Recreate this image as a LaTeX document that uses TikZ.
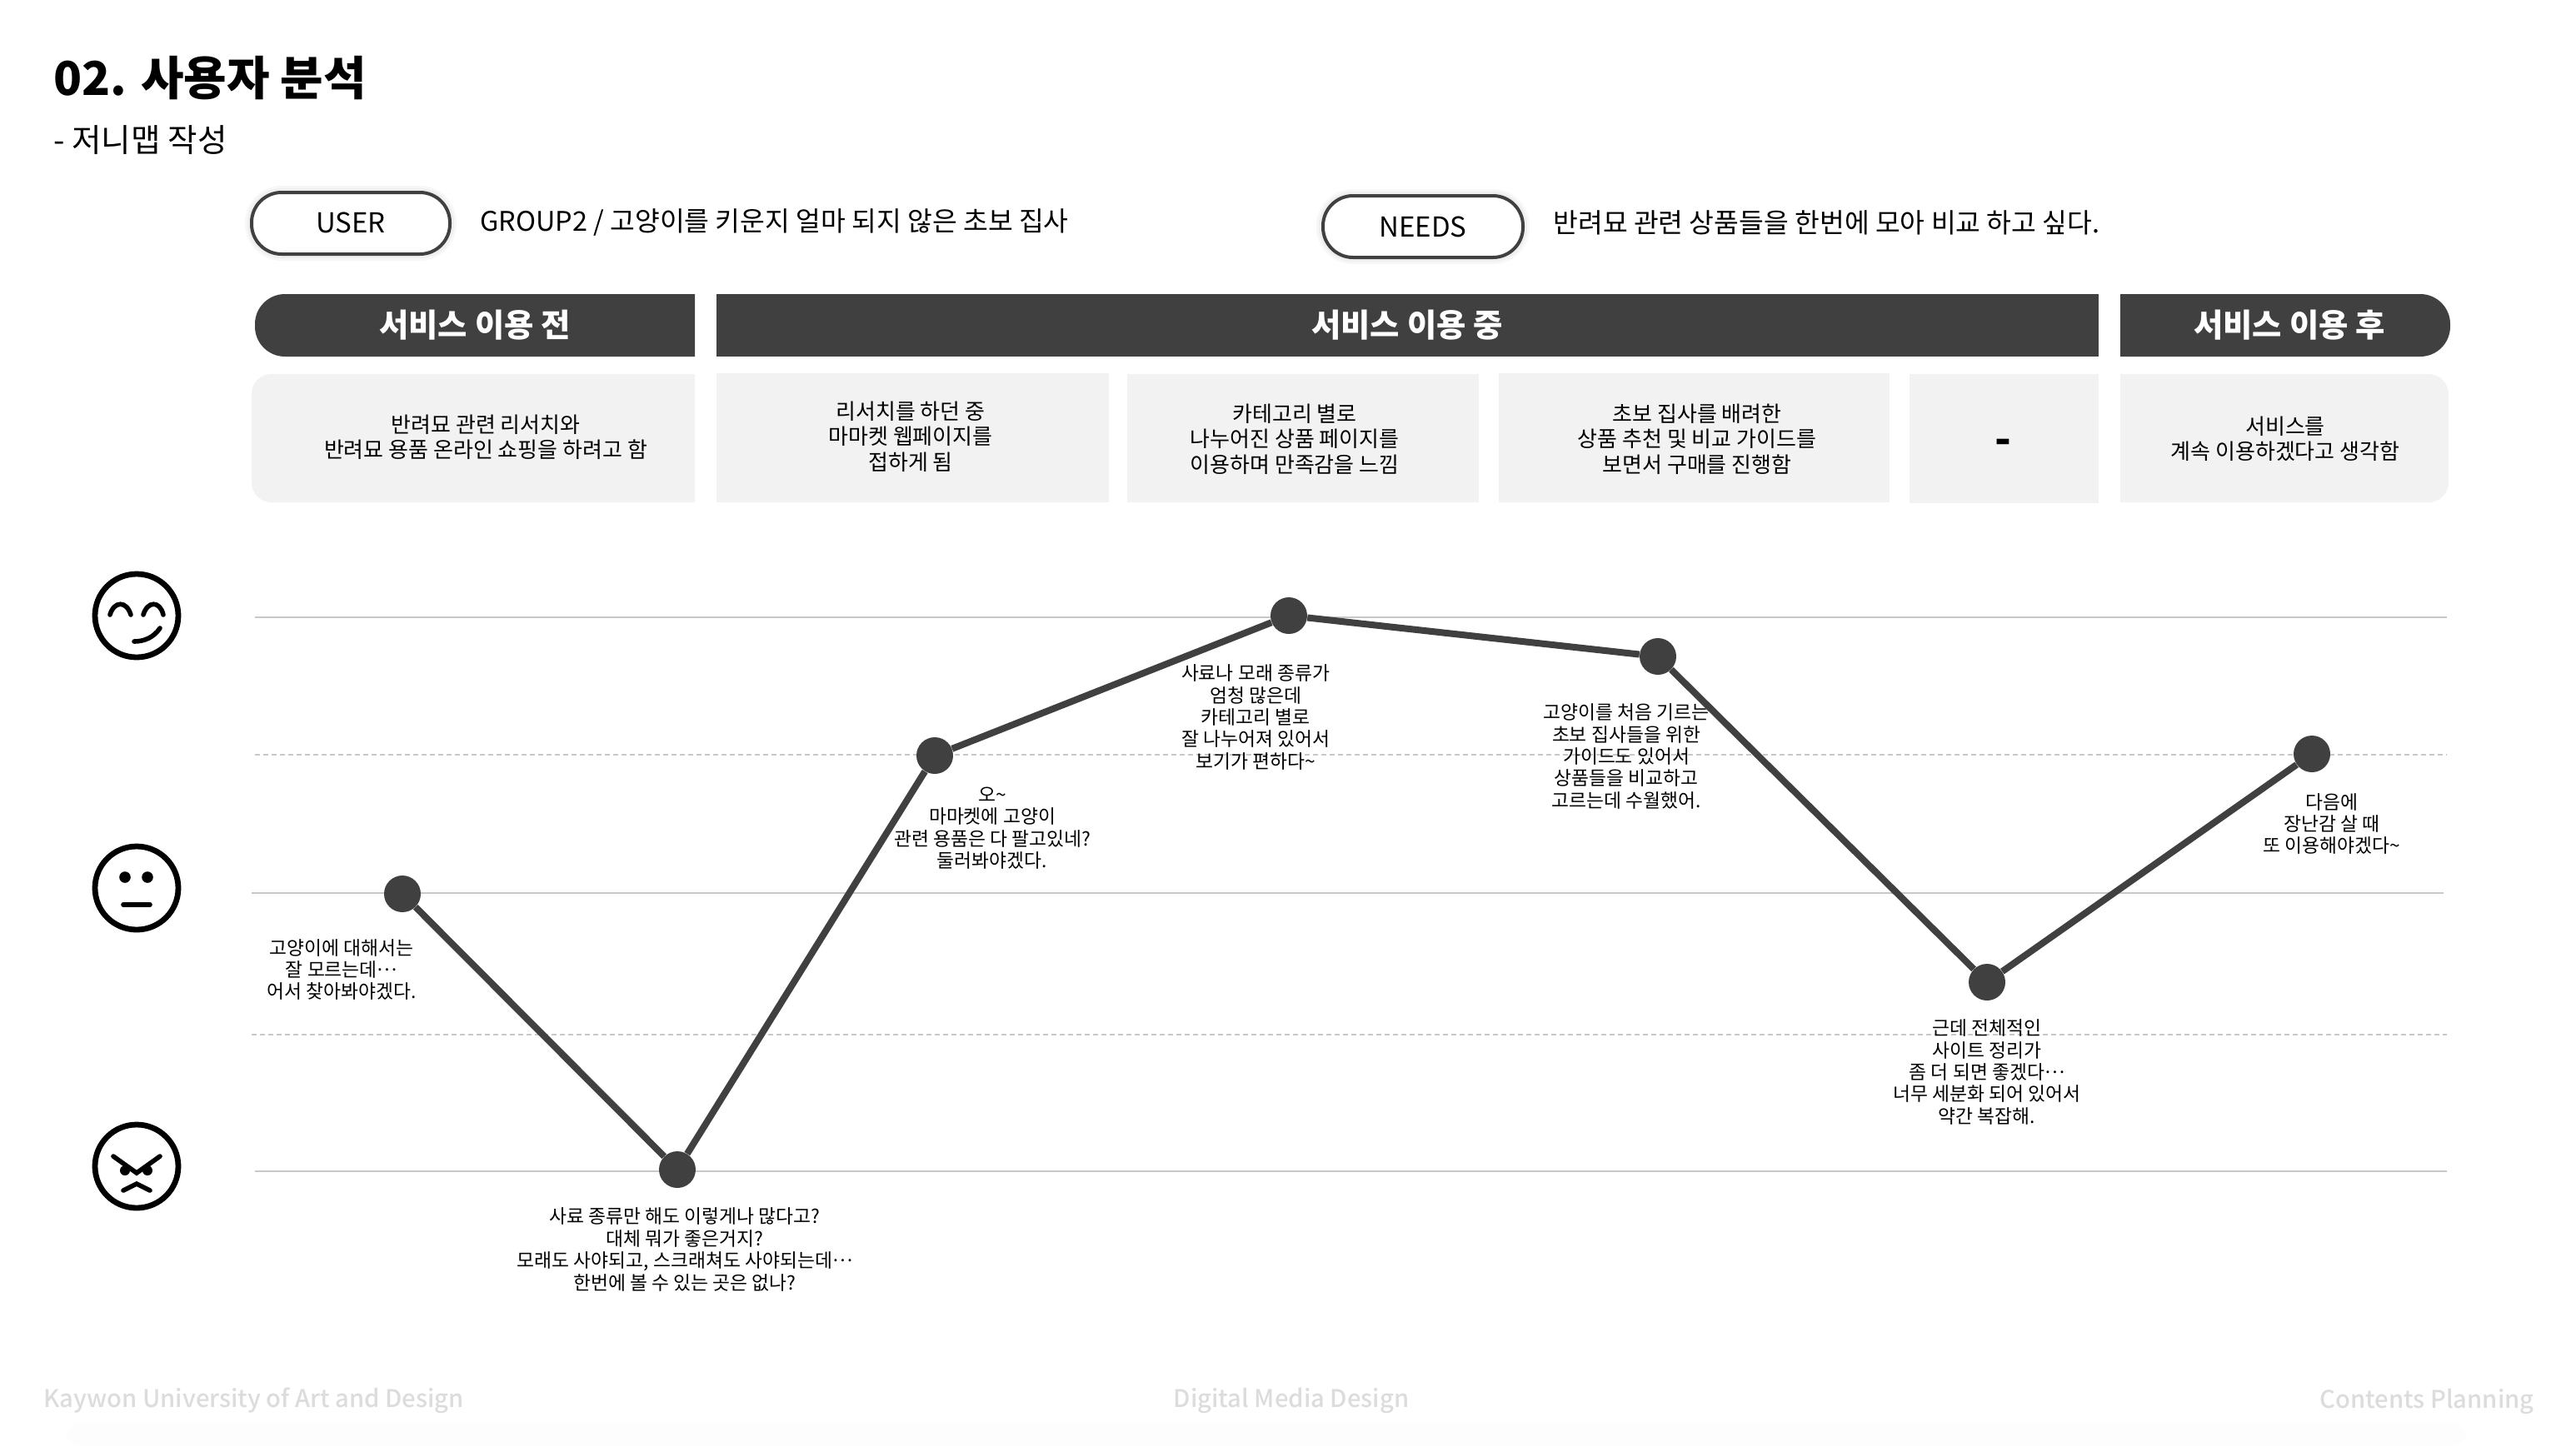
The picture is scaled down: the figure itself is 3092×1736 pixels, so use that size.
\documentclass[tikz,border=0pt]{standalone}
\usepackage{fontspec}
\setmainfont{Noto Sans CJK KR}
\newfontfamily\medfont{Noto Sans CJK KR Medium}
\newcommand{\midell}{\raisebox{0.3em}{…}}
\definecolor{ink}{HTML}{404040}
\definecolor{pale}{HTML}{F2F2F2}
\definecolor{rulegray}{HTML}{C8C8C8}
\definecolor{foot}{HTML}{DCDCDC}
\definecolor{band}{HTML}{FDFDFD}
\tikzset{
  txt/.style={inner sep=0pt,align=center,text=black},
  boxtxt/.style={txt,font=\fontsize{13}{15.2}\selectfont},
  note/.style={txt,font=\fontsize{11.4}{13.2}\selectfont},
  head/.style={txt,text=white,font=\fontsize{19.2}{24}\selectfont\bfseries},
  foottxt/.style={inner sep=0pt,text=foot,font=\medfont\fontsize{14.6}{18}\selectfont},
  pill/.style={rectangle,rounded corners=18pt,draw=ink,line width=2pt,fill=white,minimum height=37pt,
    font=\fontsize{16.5}{20}\selectfont,
    preaction={draw=black,opacity=.03,line width=8pt},preaction={draw=black,opacity=.03,line width=5pt}},
  solidrule/.style={draw=rulegray,line width=.9pt},
  dashrule/.style={draw=rulegray,line width=.9pt,dash pattern=on 3pt off 2pt},
  pt/.style={circle,fill=ink,minimum size=22pt,inner sep=0pt},
  curve/.style={draw=ink,line width=4pt},
  face/.style={draw=black,line width=3.4pt,line cap=round,fill=none},
  feat/.style={draw=black,line width=2.8pt,line cap=round}
}
\begin{document}
\begin{tikzpicture}[x=0.5pt,y=-0.5pt]
\path[use as bounding box,fill=white] (0,0) rectangle (3092,1736);
\fill[band,rounded corners=10pt] (80,1708) rectangle (2960,1736);
% title
\node[inner sep=0pt,anchor=west,font=\fontsize{28}{34}\selectfont\bfseries] (title) at (64,94) {02. 사용자 분석};
\node[inner sep=0pt,anchor=west,font=\fontsize{19.3}{24}\selectfont] (subtitle) at (64,168) {- 저니맵 작성};
% user / needs
\node[pill,minimum width=119pt] (user) at (421,268) {\raisebox{1pt}{USER}};
\node[inner sep=0pt,anchor=west,font=\fontsize{16.2}{22}\selectfont] (usertxt) at (576,267) {GROUP2 / 고양이를 키운지 얼마 되지 않은 초보 집사};
\node[pill,minimum width=120pt] (needs) at (1708,272) {NEEDS};
\node[inner sep=0pt,anchor=west,font=\fontsize{16.2}{22}\selectfont] (needstxt) at (1864,267) {반려묘 관련 상품들을 한번에 모아 비교 하고 싶다.};
% header bars
\fill[ink] (834,353) [rounded corners=18pt] -- (306,353) -- (306,428) [sharp corners] -- (834,428) -- cycle;
\fill[ink] (860,353) rectangle (2519,428);
\fill[ink] (2545,353) [rounded corners=18pt] -- (2941,353) -- (2941,428) [sharp corners] -- (2545,428) -- cycle;
\node[head] (h1) at (570,390) {서비스 이용 전};
\node[head] (h2) at (1689,390) {서비스 이용 중};
\node[head] (h3) at (2748,390) {서비스 이용 후};
% stage boxes
\fill[pale] (834,449) [rounded corners=12pt] -- (302,449) -- (302,603) [sharp corners] -- (834,603) -- cycle;
\fill[pale] (860,448) rectangle (1331,603);
\fill[pale] (1353,449) rectangle (1775,603);
\fill[pale] (1799,448) rectangle (2268,603);
\fill[pale] (2292,449) rectangle (2519,604);
\fill[pale] (2545,449) [rounded corners=12pt] -- (2939,449) -- (2939,603) [sharp corners] -- (2545,603) -- cycle;
\node[boxtxt] (b1) at (583,525) {반려묘 관련 리서치와\\반려묘 용품 온라인 쇼핑을 하려고 함};
\node[boxtxt] (b2) at (1093,524) {리서치를 하던 중\\마마켓 웹페이지를\\접하게 됨};
\node[boxtxt] (b3) at (1554,527) {카테고리 별로\\나누어진 상품 페이지를\\이용하며 만족감을 느낌};
\node[boxtxt] (b4) at (2037,527) {초보 집사를 배려한\\상품 추천 및 비교 가이드를\\보면서 구매를 진행함};
\node[txt,font=\fontsize{26}{30}\selectfont\bfseries] (b5) at (2404,536) {-};
\node[boxtxt] (b6) at (2743,527) {서비스를\\계속 이용하겠다고 생각함};
% rules
\draw[solidrule] (306,741) -- (2937,741);
\draw[dashrule] (306,906) -- (2937,906);
\draw[solidrule] (302,1072) -- (2933,1072);
\draw[dashrule] (302,1242) -- (2937,1242);
\draw[solidrule] (306,1406) -- (2937,1406);
% curve
\node[pt] (p1) at (483,1073) {};
\node[pt] (p2) at (813,1404) {};
\node[pt] (p3) at (1122,907) {};
\node[pt] (p4) at (1547,739) {};
\node[pt] (p5) at (1990,788) {};
\node[pt] (p6) at (2385,1179) {};
\node[pt] (p7) at (2775,905) {};
\draw[curve] (p1) -- (p2);
\draw[curve] (p2) -- (p3);
\draw[curve] (p3) -- (p4);
\draw[curve] (p4) -- (p5);
\draw[curve] (p5) -- (p6);
\draw[curve] (p6) -- (p7);
% notes
\node[note] (n1) at (410,1164) {고양이에 대해서는\\잘 모르는데\midell\\어서 찾아봐야겠다.};
\node[note] (n2) at (822,1500) {사료 종류만 해도 이렇게나 많다고?\\대체 뭐가 좋은거지?\\모래도 사야되고, 스크래쳐도 사야되는데\midell\\한번에 볼 수 있는 곳은 없나?};
\node[note] (n3) at (1191,994) {오\textasciitilde\\마마켓에 고양이\\관련 용품은 다 팔고있네?\\둘러봐야겠다.};
\node[note] (n4) at (1507,861) {사료나 모래 종류가\\엄청 많은데\\카테고리 별로\\잘 나누어져 있어서\\보기가 편하다\textasciitilde};
\node[note] (n5) at (1952,908) {고양이를 처음 기르는\\초보 집사들을 위한\\가이드도 있어서\\상품들을 비교하고\\고르는데 수월했어.};
\node[note] (n6) at (2385,1287) {근데 전체적인\\사이트 정리가\\좀 더 되면 좋겠다\midell\\너무 세분화 되어 있어서\\약간 복잡해.};
\node[note] (n7) at (2799,989) {다음에\\장난감 살 때\\또 이용해야겠다\textasciitilde};
% faces
\begin{scope}[shift={(164,739)}]
  \draw[face] (0,0) circle[radius=25pt];
  \draw[feat] (-32,-1) .. controls (-27,-18) and (-12,-18) .. (-7,-1);
  \draw[feat] (8,-1) .. controls (13,-18) and (28,-18) .. (32,-1);
  \draw[feat] (-3,31) .. controls (8,31) and (20,27) .. (28,15);
\end{scope}
\begin{scope}[shift={(164,1066)}]
  \draw[face] (0,0) circle[radius=25pt];
  \fill (-14,-13) circle[radius=3.4pt];
  \fill (13,-13) circle[radius=3.4pt];
  \draw[feat] (-16,20) -- (16,20);
\end{scope}
\begin{scope}[shift={(164,1400)}]
  \draw[face] (0,0) circle[radius=25pt];
  \fill (-14,5) circle[radius=3pt];
  \fill (13,5) circle[radius=3pt];
  \draw[feat] (-28,-12) -- (0,8) -- (28,-12);
  \draw[feat] (-16,29) -- (0,21) -- (16,29);
\end{scope}
% footer
\node[foottxt,anchor=west] (f1) at (52,1681) {Kaywon University of Art and Design};
\node[foottxt] (f2) at (1550,1681) {Digital Media Design};
\node[foottxt,anchor=east] (f3) at (3042,1682) {Contents Planning};
\end{tikzpicture}
\end{document}
